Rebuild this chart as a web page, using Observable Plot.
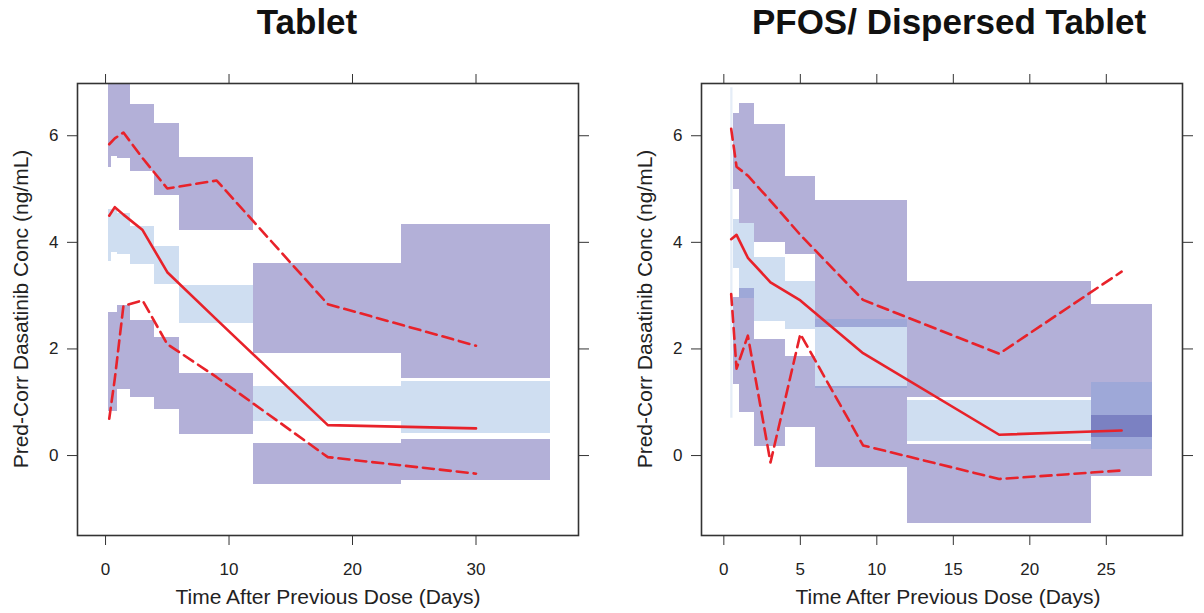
<!DOCTYPE html>
<html><head><meta charset="utf-8">
<script src="https://cdn.jsdelivr.net/npm/d3@7"></script>
<script src="https://cdn.jsdelivr.net/npm/@observablehq/plot@0.6"></script>
<style>
body{margin:0;background:#fff;font-family:"Liberation Sans",Arial,sans-serif;}
#wrap{position:relative;width:1204px;height:613px;overflow:hidden;background:#fff}
.title{position:absolute;top:2px;font-weight:bold;font-size:35px;transform:translateX(-50%);white-space:nowrap;color:#111}
.panel{position:absolute;top:50px}
.xlab{position:absolute;top:585px;font-size:21px;transform:translateX(-50%);white-space:nowrap;color:#222}
.ylab{position:absolute;font-size:21px;white-space:nowrap;color:#222;transform:translate(-50%,-50%) rotate(-90deg)}
</style></head><body>
<div id="wrap">
  <div class="title" style="left:307px">Tablet</div>
  <div class="title" style="left:949px">PFOS/ Dispersed Tablet</div>
  <div class="panel" id="p1" style="left:0px"></div>
  <div class="panel" id="p2" style="left:602px"></div>
  <div class="xlab" style="left:328px">Time After Previous Dose (Days)</div>
  <div class="xlab" style="left:948px">Time After Previous Dose (Days)</div>
  <div class="ylab" style="left:21px;top:309px">Pred-Corr Dasatinib Conc (ng/mL)</div>
  <div class="ylab" style="left:645px;top:309px">Pred-Corr Dasatinib Conc (ng/mL)</div>
</div>
<script>
// ---------- Tablet panel ----------
const tabBinStart = [0.25, 0.5, 1, 2, 4, 6, 12, 24];
const tabBinEnd   = [0.5, 1, 2, 4, 6, 12, 24, 36];
const tabUpperLo  = [5.41, 5.61, 5.58, 5.32, 4.88, 4.23, 1.92, 1.44];
const tabUpperHi  = [7.5, 7.5, 7.5, 6.59, 6.23, 5.59, 3.61, 4.33];
const tabMedLo    = [3.64, 3.81, 3.78, 3.59, 3.21, 2.47, 0.63, 0.41];
const tabMedHi    = [4.61, 4.61, 4.55, 4.30, 3.93, 3.19, 1.29, 1.39];
const tabLowLo    = [0.83, 0.83, 1.23, 1.09, 0.86, 0.39, -0.55, -0.47];
const tabLowHi    = [2.68, 2.68, 2.81, 2.54, 2.21, 1.54, 0.22, 0.31];
const tabTime     = [0.3, 0.75, 1.45, 3, 5, 9, 18, 30];
const tabObsMed   = [4.50, 4.66, 4.52, 4.23, 3.44, 2.55, 0.57, 0.51];
const tabObsHi    = [5.84, 5.95, 6.06, 5.58, 5.01, 5.16, 2.84, 2.06];
const tabObsLo    = [0.69, 1.44, 2.81, 2.91, 2.09, 1.47, -0.03, -0.34];
const tabXTicks   = [0, 10, 20, 30];

// ---------- PFOS / Dispersed Tablet panel ----------
const pfBinStart = [0.6, 1, 2, 4, 6, 12, 24];
const pfBinEnd   = [1, 2, 4, 6, 12, 24, 28];
const pfUpperLo  = [5.0, 4.36, 4.0, 3.77, 2.41, 1.09, 0.34];
const pfUpperHi  = [6.41, 6.61, 6.21, 5.24, 4.79, 3.26, 2.83];
const pfMedLo    = [3.50, 2.95, 2.52, 2.36, 1.25, 0.27, 0.11];
const pfMedHi    = [4.42, 4.36, 3.72, 3.27, 2.56, 1.04, 1.37];
const pfLowLo    = [1.34, 0.81, 0.17, 0.53, -0.23, -1.27, -0.39];
const pfLowHi    = [2.97, 3.13, 2.17, 1.86, 1.29, 0.21, 0.75];
const pfTime     = [0.48, 0.83, 1.57, 3.05, 5.0, 9.1, 18, 26];
const pfObsMed   = [4.06, 4.14, 3.71, 3.25, 2.91, 1.92, 0.39, 0.47];
const pfObsHi    = [6.13, 5.42, 5.25, 4.78, 4.14, 2.92, 1.91, 3.45];
const pfObsLo    = [3.03, 1.63, 2.25, -0.13, 2.28, 0.19, -0.44, -0.28];
const pfXTicks   = [0, 5, 10, 15, 20, 25];
const pfEdgeStrip = [{x1: 0.45, x2: 0.6, y1: 0.7, y2: 6.9}];

const yTicks = [0, 2, 4, 6];
const PURPLE = "#b3b0d8", LIGHT = "#cfdef1", MED = "#9ea8d8", DARK = "#7b81c2", RED = "#e8222a";

function makePanel(o) {
  const bins = o.start.map((s, i) => ({
    x1: s, x2: o.end[i],
    uLo: o.uLo[i], uHi: o.uHi[i], mLo: o.mLo[i], mHi: o.mHi[i], lLo: o.lLo[i], lHi: o.lHi[i]
  }));
  const inter = (b, a1, a2, c1, c2) => {
    const lo = Math.max(a1, c1), hi = Math.min(a2, c2);
    return hi > lo ? {x1: b.x1, x2: b.x2, y1: lo, y2: hi} : null;
  };
  const medOver = [];
  const ulOver = [];
  for (const b of bins) {
    const a = inter(b, b.uLo, b.uHi, b.mLo, b.mHi); if (a) medOver.push(a);
    const c = inter(b, b.lLo, b.lHi, b.mLo, b.mHi); if (c) medOver.push(c);
    const d = inter(b, b.uLo, b.uHi, b.lLo, b.lHi); if (d) ulOver.push(d);
  }
  const pts = (vals) => o.time.map((t, i) => ({t, v: vals[i]}));
  const rectOpts = (y1, y2, fill) => ({x1: "x1", x2: "x2", y1, y2, fill, inset: 0, clip: true, shapeRendering: "crispEdges"});
  const marks = [
    Plot.rect(bins, rectOpts("uLo", "uHi", PURPLE)),
    Plot.rect(bins, rectOpts("mLo", "mHi", LIGHT)),
    Plot.rect(bins, rectOpts("lLo", "lHi", PURPLE)),
    Plot.rect(medOver, rectOpts("y1", "y2", MED)),
    Plot.rect(ulOver, rectOpts("y1", "y2", DARK)),
  ];
  if (o.strip) marks.push(Plot.rect(o.strip, {x1: "x1", x2: "x2", y1: "y1", y2: "y2", fill: LIGHT, fillOpacity: 0.55, inset: 0}));
  marks.push(
    Plot.line(pts(o.med), {x: "t", y: "v", stroke: RED, strokeWidth: 2.6, clip: true}),
    Plot.line(pts(o.hi), {x: "t", y: "v", stroke: RED, strokeWidth: 2.6, strokeDasharray: "11,6", clip: true}),
    Plot.line(pts(o.lo), {x: "t", y: "v", stroke: RED, strokeWidth: 2.6, strokeDasharray: "11,6", clip: true}),
    Plot.frame({stroke: "#333", strokeWidth: 1.6}),
    Plot.axisX({ticks: o.xTicks, anchor: "bottom", tickSize: 10, tickPadding: 17, label: null, stroke: "#333"}),
    Plot.axisX({ticks: o.xTicks, anchor: "top", tickSize: 10, tickFormat: () => "", label: null, stroke: "#333"}),
    Plot.axisY({ticks: yTicks, anchor: "left", tickSize: 10, tickPadding: 9, label: null, stroke: "#333"}),
    Plot.axisY({ticks: yTicks, anchor: "right", tickSize: 10, tickFormat: () => "", label: null, stroke: "#333"})
  );
  return Plot.plot({
    width: 602, height: 563,
    marginTop: 33, marginBottom: 78, marginLeft: o.marginLeft, marginRight: o.marginRight,
    x: {domain: o.xDomain},
    y: {domain: [-1.5, 6.98]},
    style: {fontFamily: "'Liberation Sans', Arial, sans-serif", fontSize: "17px", color: "#222", background: "white", overflow: "visible"},
    marks
  });
}

document.getElementById("p1").append(makePanel({
  start: tabBinStart, end: tabBinEnd, uLo: tabUpperLo, uHi: tabUpperHi, mLo: tabMedLo, mHi: tabMedHi,
  lLo: tabLowLo, lHi: tabLowHi, time: tabTime, med: tabObsMed, hi: tabObsHi, lo: tabObsLo,
  xTicks: tabXTicks, xDomain: [-2.27, 38.3], marginLeft: 77, marginRight: 24
}));
document.getElementById("p2").append(makePanel({
  start: pfBinStart, end: pfBinEnd, uLo: pfUpperLo, uHi: pfUpperHi, mLo: pfMedLo, mHi: pfMedHi,
  lLo: pfLowLo, lHi: pfLowHi, time: pfTime, med: pfObsMed, hi: pfObsHi, lo: pfObsLo,
  xTicks: pfXTicks, xDomain: [-1.46, 29.98], marginLeft: 99, marginRight: 22, strip: pfEdgeStrip
}));
</script>
</body></html>
